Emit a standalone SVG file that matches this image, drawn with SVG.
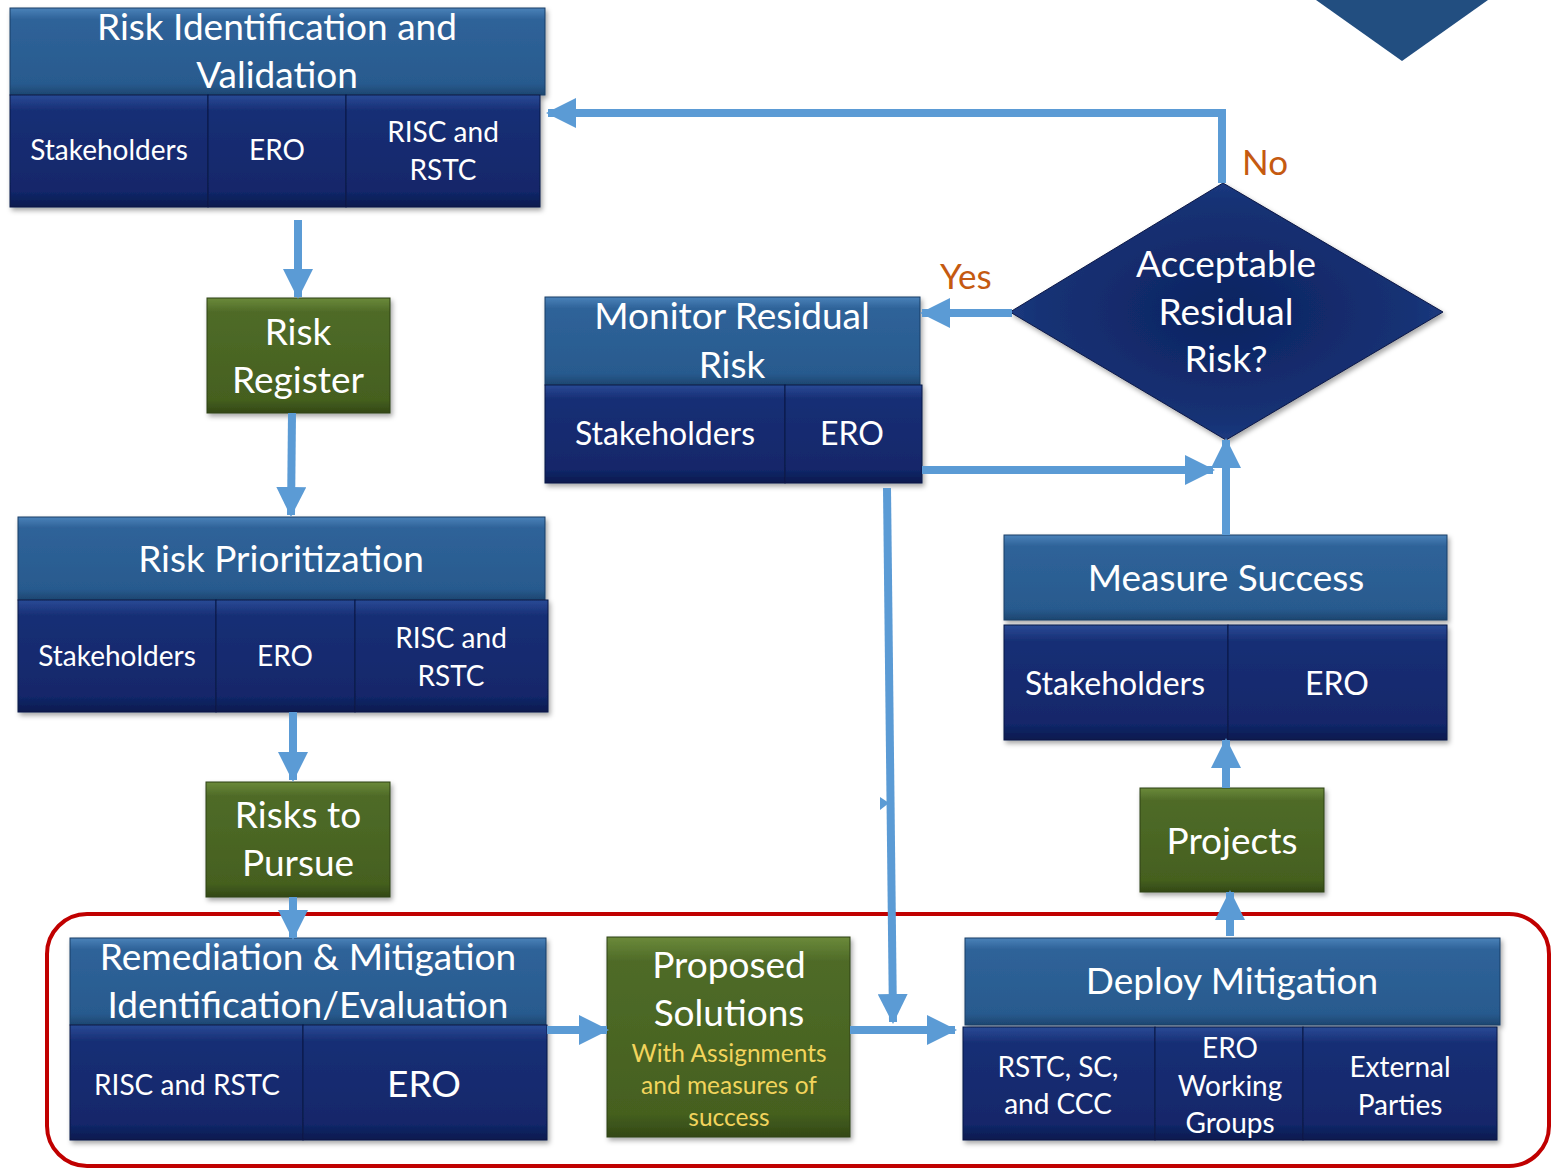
<svg xmlns="http://www.w3.org/2000/svg" width="1551" height="1169" viewBox="0 0 1551 1169">
<defs>
<linearGradient id="gHdr" x1="0" y1="0" x2="0" y2="1">
<stop offset="0" stop-color="#4A82B9"/><stop offset="0.13" stop-color="#2F6399"/><stop offset="0.87" stop-color="#285A8E"/><stop offset="1" stop-color="#1D4670"/>
</linearGradient>
<linearGradient id="gCell" x1="0" y1="0" x2="0" y2="1">
<stop offset="0" stop-color="#2A4A96"/><stop offset="0.14" stop-color="#172F75"/><stop offset="0.86" stop-color="#12276A"/><stop offset="1" stop-color="#0B1A4E"/>
</linearGradient>
<linearGradient id="gGrn" x1="0" y1="0" x2="0" y2="1">
<stop offset="0" stop-color="#6B8A3A"/><stop offset="0.12" stop-color="#4F6B28"/><stop offset="0.88" stop-color="#45601F"/><stop offset="1" stop-color="#334816"/>
</linearGradient>
<radialGradient id="gDia" cx="0.5" cy="0.5" r="0.6">
<stop offset="0" stop-color="#0D2360"/><stop offset="0.7" stop-color="#163174"/><stop offset="1" stop-color="#22448C"/>
</radialGradient>
<filter id="sh" x="-5%" y="-5%" width="110%" height="115%">
<feDropShadow dx="2" dy="3" stdDeviation="2.5" flood-color="#000" flood-opacity="0.35"/>
</filter>
<marker id="ah" viewBox="0 0 30 30" refX="28" refY="15" markerWidth="30" markerHeight="30" markerUnits="userSpaceOnUse" orient="auto">
<path d="M0,0 L30,15 L0,30 z" fill="#5B9BD5"/>
</marker>
<style>
.hdr{fill:url(#gHdr);stroke:#1B3F66;stroke-width:1}
.cell{fill:url(#gCell);stroke:#0A1846;stroke-width:1}
.grn{fill:url(#gGrn);stroke:#2E4014;stroke-width:1}
.t{font-family:Lato,"Open Sans","Liberation Sans",sans-serif;fill:#FFFFFF;text-anchor:middle}
.big{font-size:37px}
.med{font-size:32px}
.sm{font-size:28px}
.yl{font-family:Lato,"Open Sans","Liberation Sans",sans-serif;fill:#F2D45C;text-anchor:middle;font-size:24.5px}
.lbl{font-family:Lato,"Open Sans","Liberation Sans",sans-serif;fill:#C55A11;font-size:35px}
.con{fill:none;stroke:#5B9BD5;stroke-width:8;marker-end:url(#ah)}
</style>
</defs>
<rect width="1551" height="1169" fill="#FFFFFF"/>
<polygon points="1316,0 1488,0 1402,61" fill="#224E80"/>
<rect x="47" y="914" width="1502" height="252" rx="40" ry="40" fill="none" stroke="#C00000" stroke-width="4"/>

<g id="node-risk-identification">
<g filter="url(#sh)">
<rect class="hdr" x="10" y="8" width="535" height="87"/>
<rect class="cell" x="10" y="95" width="198" height="112"/>
<rect class="cell" x="208" y="95" width="138" height="112"/>
<rect class="cell" x="346" y="95" width="194" height="112"/>
</g>
<text class="t big" x="277" y="40">Risk Identification and</text>
<text class="t big" x="277" y="88">Validation</text>
<text class="t sm" x="109" y="160">Stakeholders</text>
<text class="t sm" x="277" y="160">ERO</text>
<text class="t sm" x="443" y="142">RISC and</text>
<text class="t sm" x="443" y="180">RSTC</text>
</g>

<g id="node-risk-register">
<rect class="grn" x="207" y="298" width="183" height="115" filter="url(#sh)"/>
<text class="t big" x="298" y="345">Risk</text>
<text class="t big" x="298" y="393">Register</text>
</g>

<g id="node-risk-prioritization">
<g filter="url(#sh)">
<rect class="hdr" x="18" y="517" width="527" height="83"/>
<rect class="cell" x="18" y="600" width="198" height="112"/>
<rect class="cell" x="216" y="600" width="139" height="112"/>
<rect class="cell" x="355" y="600" width="193" height="112"/>
</g>
<text class="t big" x="281" y="572">Risk Prioritization</text>
<text class="t sm" x="117" y="666">Stakeholders</text>
<text class="t sm" x="285" y="666">ERO</text>
<text class="t sm" x="451" y="648">RISC and</text>
<text class="t sm" x="451" y="686">RSTC</text>
</g>

<g id="node-risks-to-pursue">
<rect class="grn" x="206" y="782" width="184" height="115" filter="url(#sh)"/>
<text class="t big" x="298" y="828">Risks to</text>
<text class="t big" x="298" y="876">Pursue</text>
</g>

<g id="node-remediation">
<g filter="url(#sh)">
<rect class="hdr" x="70" y="938" width="476" height="87"/>
<rect class="cell" x="70" y="1025" width="233" height="115"/>
<rect class="cell" x="303" y="1025" width="244" height="115"/>
</g>
<text class="t big" x="308" y="970">Remediation &amp; Mitigation</text>
<text class="t big" x="308" y="1018">Identification/Evaluation</text>
<text class="t sm" x="187" y="1095">RISC and RSTC</text>
<text class="t big" x="424" y="1097">ERO</text>
</g>

<g id="node-proposed-solutions">
<rect class="grn" x="607" y="937" width="243" height="200" filter="url(#sh)"/>
<text class="t big" x="729" y="978">Proposed</text>
<text class="t big" x="729" y="1026">Solutions</text>
<text class="yl" x="729" y="1062">With Assignments</text>
<text class="yl" x="729" y="1094">and measures of</text>
<text class="yl" x="729" y="1126">success</text>
</g>

<g id="node-deploy-mitigation">
<g filter="url(#sh)">
<rect class="hdr" x="965" y="938" width="535" height="87"/>
<rect class="cell" x="963" y="1027" width="192" height="113"/>
<rect class="cell" x="1155" y="1027" width="148" height="113"/>
<rect class="cell" x="1303" y="1027" width="194" height="113"/>
</g>
<text class="t big" x="1232" y="994">Deploy Mitigation</text>
<text class="t sm" x="1058" y="1077">RSTC, SC,</text>
<text class="t sm" x="1058" y="1114">and CCC</text>
<text class="t sm" x="1230" y="1058">ERO</text>
<text class="t sm" x="1230" y="1096">Working</text>
<text class="t sm" x="1230" y="1133">Groups</text>
<text class="t sm" x="1400" y="1077">External</text>
<text class="t sm" x="1400" y="1115">Parties</text>
</g>

<g id="node-projects">
<rect class="grn" x="1140" y="788" width="184" height="104" filter="url(#sh)"/>
<text class="t big" x="1232" y="854">Projects</text>
</g>

<g id="node-measure-success">
<g filter="url(#sh)">
<rect class="hdr" x="1004" y="535" width="443" height="85"/>
<rect class="cell" x="1004" y="625" width="224" height="115"/>
<rect class="cell" x="1228" y="625" width="219" height="115"/>
</g>
<text class="t big" x="1226" y="591">Measure Success</text>
<text class="t med" x="1115" y="695">Stakeholders</text>
<text class="t med" x="1337" y="695">ERO</text>
</g>

<g id="node-acceptable-residual-risk">
<polygon points="1223,183 1443,312 1226,440 1010,312" fill="url(#gDia)" stroke="#0A1846" stroke-width="1" filter="url(#sh)"/>
<text class="t big" x="1226" y="277">Acceptable</text>
<text class="t big" x="1226" y="325">Residual</text>
<text class="t big" x="1226" y="372">Risk?</text>
</g>

<g id="node-monitor-residual-risk">
<g filter="url(#sh)">
<rect class="hdr" x="545" y="297" width="375" height="88"/>
<rect class="cell" x="545" y="385" width="240" height="98"/>
<rect class="cell" x="785" y="385" width="137" height="98"/>
</g>
<text class="t big" x="732" y="329">Monitor Residual</text>
<text class="t big" x="732" y="378">Risk</text>
<text class="t med" x="665" y="445">Stakeholders</text>
<text class="t med" x="852" y="445">ERO</text>
</g>

<g id="connectors">
<line class="con" x1="298" y1="220" x2="298" y2="297"/>
<line class="con" x1="292" y1="413" x2="291" y2="515"/>
<line class="con" x1="293" y1="712" x2="293" y2="780"/>
<line class="con" x1="293" y1="897" x2="293" y2="938"/>
<line class="con" x1="547" y1="1030" x2="607" y2="1030"/>
<line class="con" x1="850" y1="1030" x2="955" y2="1030"/>
<line class="con" x1="887" y1="488" x2="893" y2="1022"/>
<line class="con" x1="1230" y1="936" x2="1230" y2="892"/>
<line class="con" x1="1226" y1="788" x2="1226" y2="740"/>
<line class="con" x1="1226" y1="535" x2="1226" y2="440"/>
<line class="con" x1="1012" y1="313" x2="922" y2="313"/>
<line class="con" x1="922" y1="470" x2="1213" y2="470"/>
<polyline class="con" points="1222,183 1222,113 548,113"/>
<polygon points="880,797 889,803 880,810" fill="#5B9BD5"/>
<text class="lbl" x="1242" y="175">No</text>
<text class="lbl" x="940" y="289">Yes</text>
</g>
</svg>
